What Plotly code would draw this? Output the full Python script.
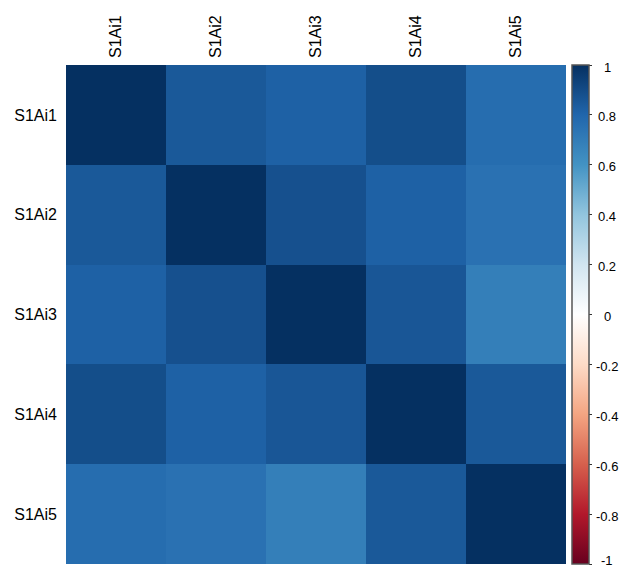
import plotly.graph_objects as go

# Correlation matrix of the five S1Ai items
labels = ["S1Ai1", "S1Ai2", "S1Ai3", "S1Ai4", "S1Ai5"]
row1 = [1.00, 0.85, 0.82, 0.89, 0.77]
row2 = [0.85, 1.00, 0.88, 0.82, 0.75]
row3 = [0.82, 0.88, 1.00, 0.86, 0.69]
row4 = [0.89, 0.82, 0.86, 1.00, 0.85]
row5 = [0.77, 0.75, 0.69, 0.85, 1.00]
corr = [row1, row2, row3, row4, row5]

cbar_ticks = [1, 0.8, 0.6, 0.4, 0.2, 0, -0.2, -0.4, -0.6, -0.8, -1]
zmin, zmax = -1, 1

# Diverging red-blue palette (ColorBrewer RdBu, 11 classes)
rdbu = ["#67001F", "#B2182B", "#D6604D", "#F4A582", "#FDDBC7", "#FFFFFF",
        "#D1E5F0", "#92C5DE", "#4393C3", "#2166AC", "#053061"]
colorscale = [[i / (len(rdbu) - 1), c] for i, c in enumerate(rdbu)]

FONT = "Liberation Sans, Arial"

fig = go.Figure(go.Heatmap(
    z=corr, x=labels, y=labels,
    zmin=zmin, zmax=zmax, colorscale=colorscale,
    colorbar=dict(
        thickness=17, len=1, lenmode="fraction",
        x=1.012, xanchor="left", xpad=0, y=0.5, yanchor="middle", ypad=0,
        outlinecolor="#555555", outlinewidth=1.5,
        tickvals=cbar_ticks, showticklabels=False,
        ticks="outside", ticklen=3, tickcolor="#333333",
    ),
))

# Colour-bar labels, centred beside each tick; the lowest one is nudged up
# so it stays inside the page
for v in cbar_ticks:
    fig.add_annotation(
        x=1.082, xref="paper", xanchor="center",
        y=(v - zmin) / (zmax - zmin), yref="paper", yanchor="middle",
        yshift=4 if v == zmin else -2, text=f"{v:g}", showarrow=False,
        borderpad=0,
        font=dict(family=FONT, size=13, color="#000000"),
    )

fig.update_layout(
    width=621, height=570,
    margin=dict(l=66, r=55, t=65, b=6),
    paper_bgcolor="white", plot_bgcolor="white",
    font=dict(family=FONT, color="#000000"),
    xaxis=dict(side="top", tickangle=-90, showgrid=False, zeroline=False,
               ticks="", tickfont=dict(size=16), ticklabelstandoff=6),
    yaxis=dict(autorange="reversed", showgrid=False, zeroline=False,
               ticks="", tickfont=dict(size=16), ticklabelstandoff=8),
)

fig.write_html("out.html")
